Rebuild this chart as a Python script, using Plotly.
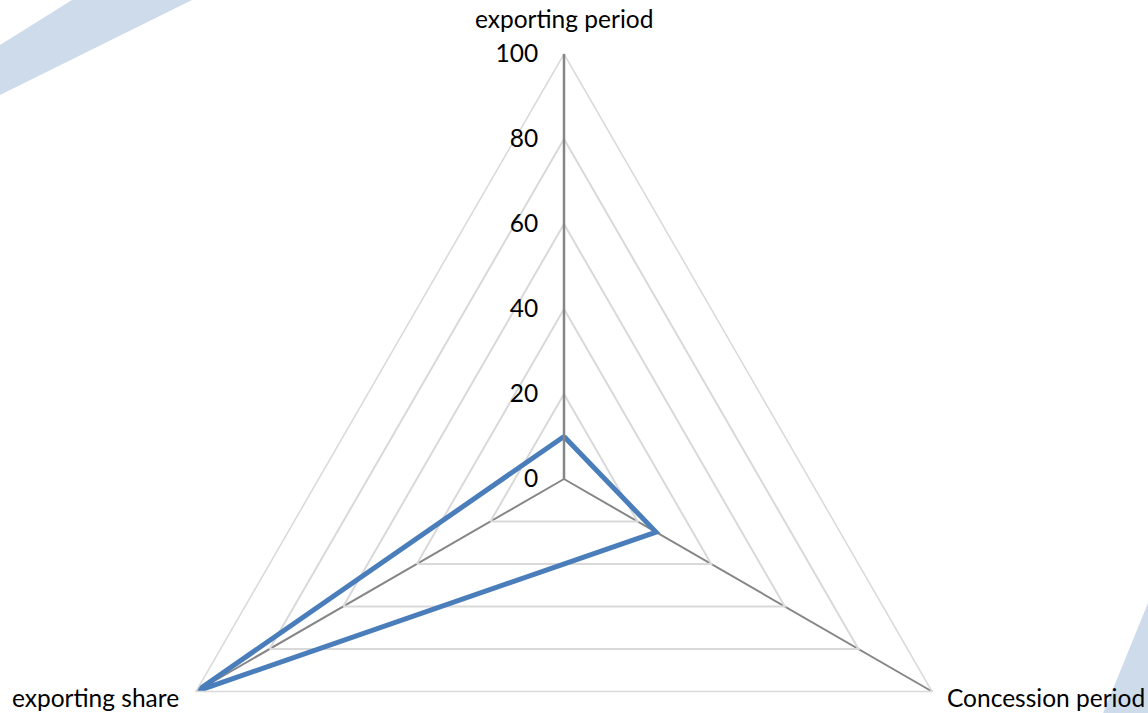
import plotly.graph_objects as go

# Radar data
categories = ["exporting period", "Concession period", "exporting share"]
values = [10, 25, 100]
radial_ticks = [0, 20, 40, 60, 80, 100]

FONT = "Lato"
FS = 24.5

# figure geometry (pixels)
W, H = 1148, 904
ML, MR, MT, MB = 139, 159, 54, 0
PW, PH = W - ML - MR, H - MT - MB


def px(x, y):
    """Pixel position (from top-left) -> paper coordinates."""
    return (x - ML) / PW, (H - MB - y) / PH


def path_from_px(points):
    pts = [px(x, y) for x, y in points]
    return "M " + " L ".join(f"{a:.5f} {b:.5f}" for a, b in pts) + " Z"


# close the polygon
theta = categories + categories[:1]
r = values + values[:1]

fig = go.Figure()
fig.add_trace(go.Scatterpolar(
    r=r,
    theta=theta,
    mode="lines",
    line=dict(color="#4a7ebb", width=5),
    hoverinfo="skip",
    showlegend=False,
))

# decorative background bands
band_color = "#cddbeb"
fig.add_shape(type="path", xref="paper", yref="paper", layer="below",
              path=path_from_px([(0, 45), (72, 0), (192, 0), (0, 95)]),
              fillcolor=band_color, line_width=0)
fig.add_shape(type="path", xref="paper", yref="paper", layer="below",
              path=path_from_px([(1148, 603), (1084, 760), (1148, 760)]),
              fillcolor=band_color, line_width=0)

# category labels
label_pos = {
    "exporting period": ((564, 18), "center"),
    "Concession period": ((945, 697), "left"),
    "exporting share": ((181, 697), "right"),
}
for name in categories:
    (lx, ly), anchor = label_pos[name]
    ax_, ay_ = px(lx, ly)
    fig.add_annotation(x=ax_, y=ay_, xref="paper", yref="paper", text=name,
                       showarrow=False, xanchor=anchor, yanchor="middle",
                       font=dict(family=FONT, size=FS, color="#000000"))

fig.update_layout(
    width=W,
    height=H,
    margin=dict(l=ML, r=MR, t=MT, b=MB),
    paper_bgcolor="white",
    plot_bgcolor="white",
    font=dict(family=FONT, size=FS, color="#000000"),
    polar=dict(
        bgcolor="rgba(0,0,0,0)",
        gridshape="linear",
        domain=dict(x=[0, 1], y=[0, 1]),
        angularaxis=dict(
            direction="clockwise",
            rotation=90,
            showline=True,
            linecolor="#d9d9d9",
            linewidth=1.5,
            showgrid=True,
            gridcolor="#868686",
            gridwidth=1.5,
            ticks="",
            showticklabels=False,
        ),
        radialaxis=dict(
            range=[0, 100],
            tickvals=radial_ticks,
            angle=90,
            tickangle=90,
            side="counterclockwise",
            showline=True,
            linecolor="#868686",
            linewidth=2.5,
            showgrid=True,
            gridcolor="#d9d9d9",
            gridwidth=1.5,
            ticks="outside",
            ticklen=16,
            tickcolor="rgba(0,0,0,0)",
            tickfont=dict(family=FONT, size=FS, color="#000000"),
        ),
    ),
)

fig.write_html(
    "out.html",
    post_script="document.documentElement.style.overflow='hidden';document.body.style.overflow='hidden';",
)
